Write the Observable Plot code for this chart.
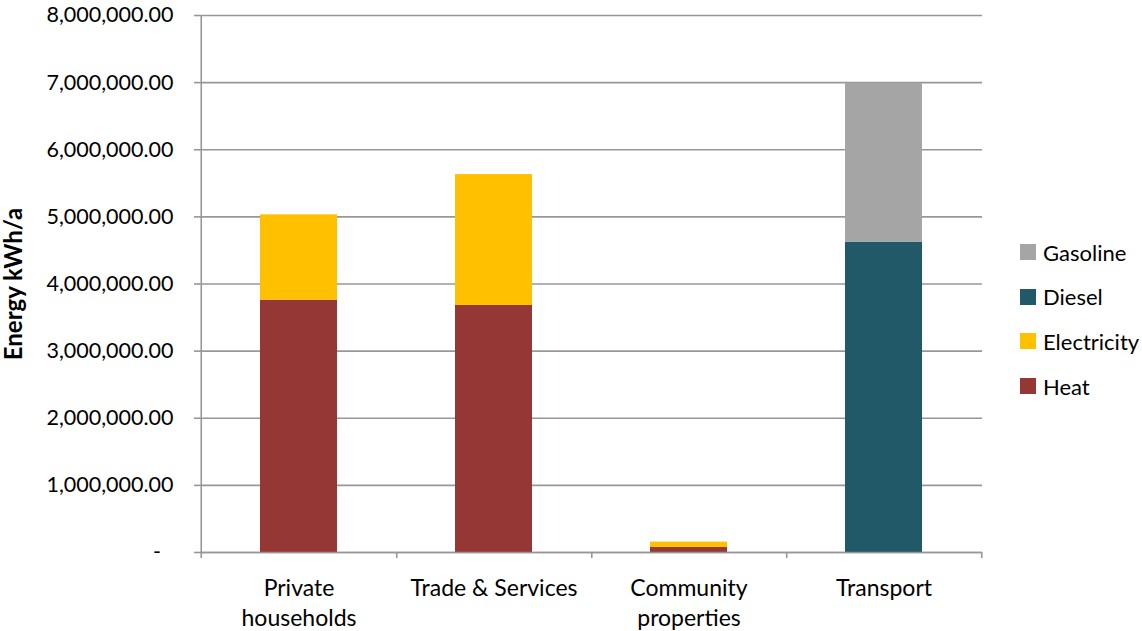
<!DOCTYPE html>
<html>
<head>
<meta charset="utf-8">
<script src="https://cdn.jsdelivr.net/npm/d3@7"></script>
<script src="https://cdn.jsdelivr.net/npm/@observablehq/plot@0.6"></script>
<style>
  html, body { margin: 0; padding: 0; background: #fff; }
  #wrap { position: relative; width: 1142px; height: 631px; font-family: Lato, "Open Sans", sans-serif; }
  #legend { position: absolute; left: 1020px; top: 230px; display: flex; flex-direction: column; }
  .item { display: flex; align-items: center; height: 44.6px; font-size: 22px; color: #000; white-space: nowrap; }
  .sw { width: 16px; height: 16px; margin-right: 7px; flex: none; }
</style>
</head>
<body>
<div id="wrap"></div>
<script>
const categories = ["Private households", "Trade & Services", "Community properties", "Transport"];
const tickLabels = ["Private\nhouseholds", "Trade & Services", "Community\nproperties", "Transport"];
const series = ["Heat", "Electricity", "Diesel", "Gasoline"];
const heat        = [3760000, 3680000, 75000, 0];
const electricity = [1270000, 1950000, 80000, 0];
const diesel      = [0, 0, 0, 4620000];
const gasoline    = [0, 0, 0, 2370000];
const colors = ["#953735", "#FFC000", "#215968", "#A5A5A5"];
const yTicks = [0, 1000000, 2000000, 3000000, 4000000, 5000000, 6000000, 7000000, 8000000];
const yLabel = "Energy kWh/a";
const legendOrder = ["Gasoline", "Diesel", "Electricity", "Heat"];

const valuesBySeries = {Heat: heat, Electricity: electricity, Diesel: diesel, Gasoline: gasoline};
const data = [];
series.forEach(s => categories.forEach((c, i) => {
  if (valuesBySeries[s][i] > 0) data.push({category: c, series: s, value: valuesBySeries[s][i]});
}));

const W = 1142, H = 631, mL = 200, mR = 160, mT = 15, mB = 79;
const step = (W - mL - mR) / categories.length;
const font = "Lato, 'Open Sans', sans-serif";
const grid = "#979797";

const chart = Plot.plot({
  width: W, height: H,
  marginLeft: mL, marginRight: mR, marginTop: mT, marginBottom: mB,
  style: {fontFamily: font, fontSize: "21px", color: "#000", background: "#fff", overflow: "visible"},
  x: {domain: categories, paddingInner: 0.606, paddingOuter: 0.303, label: null},
  y: {domain: [0, 8000000], label: null},
  color: {domain: series, range: colors},
  marks: [
    Plot.ruleY(yTicks, {stroke: grid, strokeWidth: 1.6}),
    Plot.barY(data, {x: "category", y: "value", fill: "series", order: series}),
    Plot.ruleY([0], {stroke: grid, strokeWidth: 1.6}),
    Plot.ruleX([categories[0]], {x: d => d, dx: -step / 2, y1: 8000000, y2: 0, insetBottom: -6, stroke: grid, strokeWidth: 1.6}),
    Plot.ruleX(categories, {x: d => d, dx: step / 2, y1: 0, y2: 0, insetBottom: -6, stroke: grid, strokeWidth: 1.6}),
    Plot.axisY({ticks: yTicks, tickSize: 6, tickPadding: 21, stroke: grid, strokeWidth: 1.6,
      tickFormat: d => d === 0 ? "-\u2007" : d3.format(",.2f")(d), fontSize: 21.5}),
    Plot.axisX({tickSize: 0, tickPadding: 22, fontSize: 23, lineHeight: 1.3,
      tickFormat: d => tickLabels[categories.indexOf(d)], textOverflow: null, lineWidth: Infinity}),
    Plot.text([yLabel], {frameAnchor: "left", dx: -186, rotate: -90, textAnchor: "middle",
      fontWeight: "bold", fontSize: 24, text: d => d})
  ]
});

document.getElementById("wrap").appendChild(chart);

const legend = document.createElement("div");
legend.id = "legend";
legendOrder.forEach(s => {
  const it = document.createElement("div");
  it.className = "item";
  const sw = document.createElement("div");
  sw.className = "sw";
  sw.style.background = colors[series.indexOf(s)];
  const t = document.createElement("span");
  t.textContent = s;
  it.appendChild(sw); it.appendChild(t);
  legend.appendChild(it);
});
document.getElementById("wrap").appendChild(legend);
</script>
</body>
</html>
